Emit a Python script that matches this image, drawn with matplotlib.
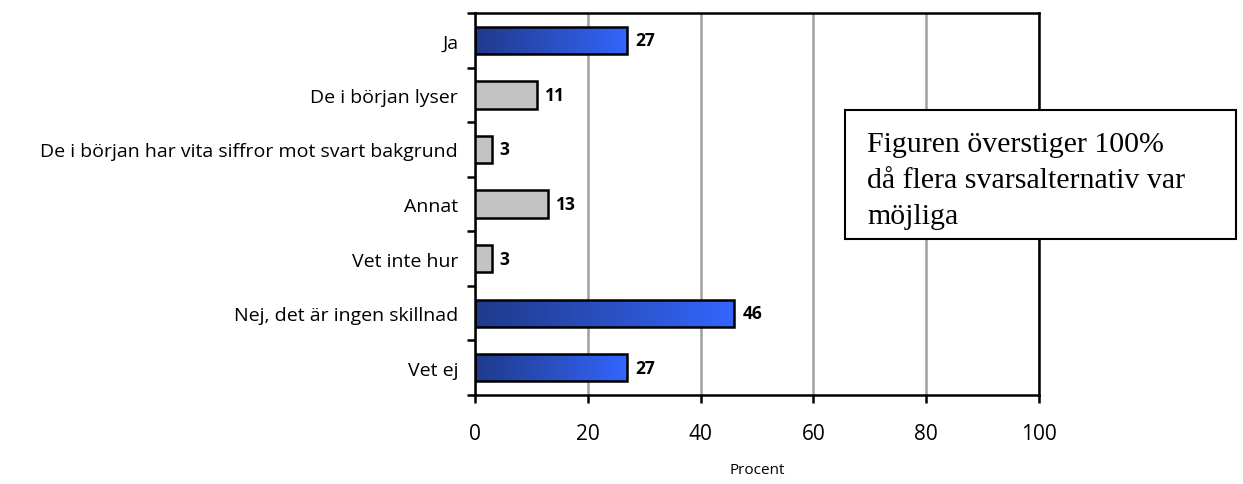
import numpy as np
import matplotlib.pyplot as plt
from matplotlib.colors import LinearSegmentedColormap
from matplotlib.patches import Rectangle

categories = ["Ja", "De i början lyser", "De i början har vita siffror mot svart bakgrund",
              "Annat", "Vet inte hur", "Nej, det är ingen skillnad", "Vet ej"]
values = [27, 11, 3, 13, 3, 46, 27]
highlight = [True, False, False, False, False, True, True]
xticks = [0, 20, 40, 60, 80, 100]
note = "Figuren överstiger 100%\ndå flera svarsalternativ var\nmöjliga"

plt.rcParams['font.family'] = ['Open Sans', 'DejaVu Sans']

fig = plt.figure(figsize=(12.43, 4.85), dpi=100)
ax = fig.add_axes([0.382, 0.1835, 0.454, 0.7875])

y = np.arange(len(categories))
blue_cmap = LinearSegmentedColormap.from_list("bl", ["#1f3a8c", "#2a4fc0", "#3366ff"])
grad = np.linspace(0, 1, 256).reshape(1, -1)

bars = ax.barh(y, values, height=0.5, edgecolor="black", linewidth=1.8, zorder=3)
for bar, hl in zip(bars, highlight):
    if hl:
        bar.set_facecolor("none")
        x0, y0 = bar.get_x(), bar.get_y()
        w, h = bar.get_width(), bar.get_height()
        im = ax.imshow(grad, cmap=blue_cmap, aspect="auto",
                       extent=(x0, x0 + w, y0 + h, y0), zorder=2.5)
        im.set_clip_path(bar)
    else:
        bar.set_facecolor("#c3c3c3")

for yi, v in zip(y, values):
    ax.text(v + 1.4, yi, str(v), va="center", ha="left", fontsize=12.5, fontweight="bold")

ax.set_xlim(0, 100)
ax.set_ylim(len(categories) - 0.5, -0.5)
ax.set_xticks(xticks)
ax.set_xticklabels([str(t) for t in xticks], fontsize=15)
ax.set_yticks(y)
ax.set_yticklabels(categories, fontsize=14)
ax.tick_params(axis="y", length=0, pad=12)
ax.set_yticks(np.arange(len(categories) + 1) - 0.5, minor=True)
ax.tick_params(axis="y", which="minor", length=6, width=1.8, direction="out")
ax.tick_params(axis="x", length=6, width=1.8, direction="out", pad=14)
ax.grid(axis="x", color="#a0a0a0", linewidth=1.8, zorder=0)
for s in ax.spines.values():
    s.set_linewidth(1.8)
    s.set_color("black")
ax.set_xlabel("Procent", fontsize=11, labelpad=13)

box = fig.add_axes([0.680, 0.505, 0.3146, 0.266])
box.set_xlim(0, 1)
box.set_ylim(0, 1)
box.axis("off")
box.add_patch(Rectangle((0, 0), 1, 1, facecolor="white", edgecolor="black",
                        linewidth=1.5, transform=box.transAxes, clip_on=False))
box.text(0.056, 0.84, note, ha="left", va="top", fontsize=21.5,
         family=["Liberation Serif", "DejaVu Serif"], linespacing=1.5)

fig.savefig("out.png", dpi=100)
